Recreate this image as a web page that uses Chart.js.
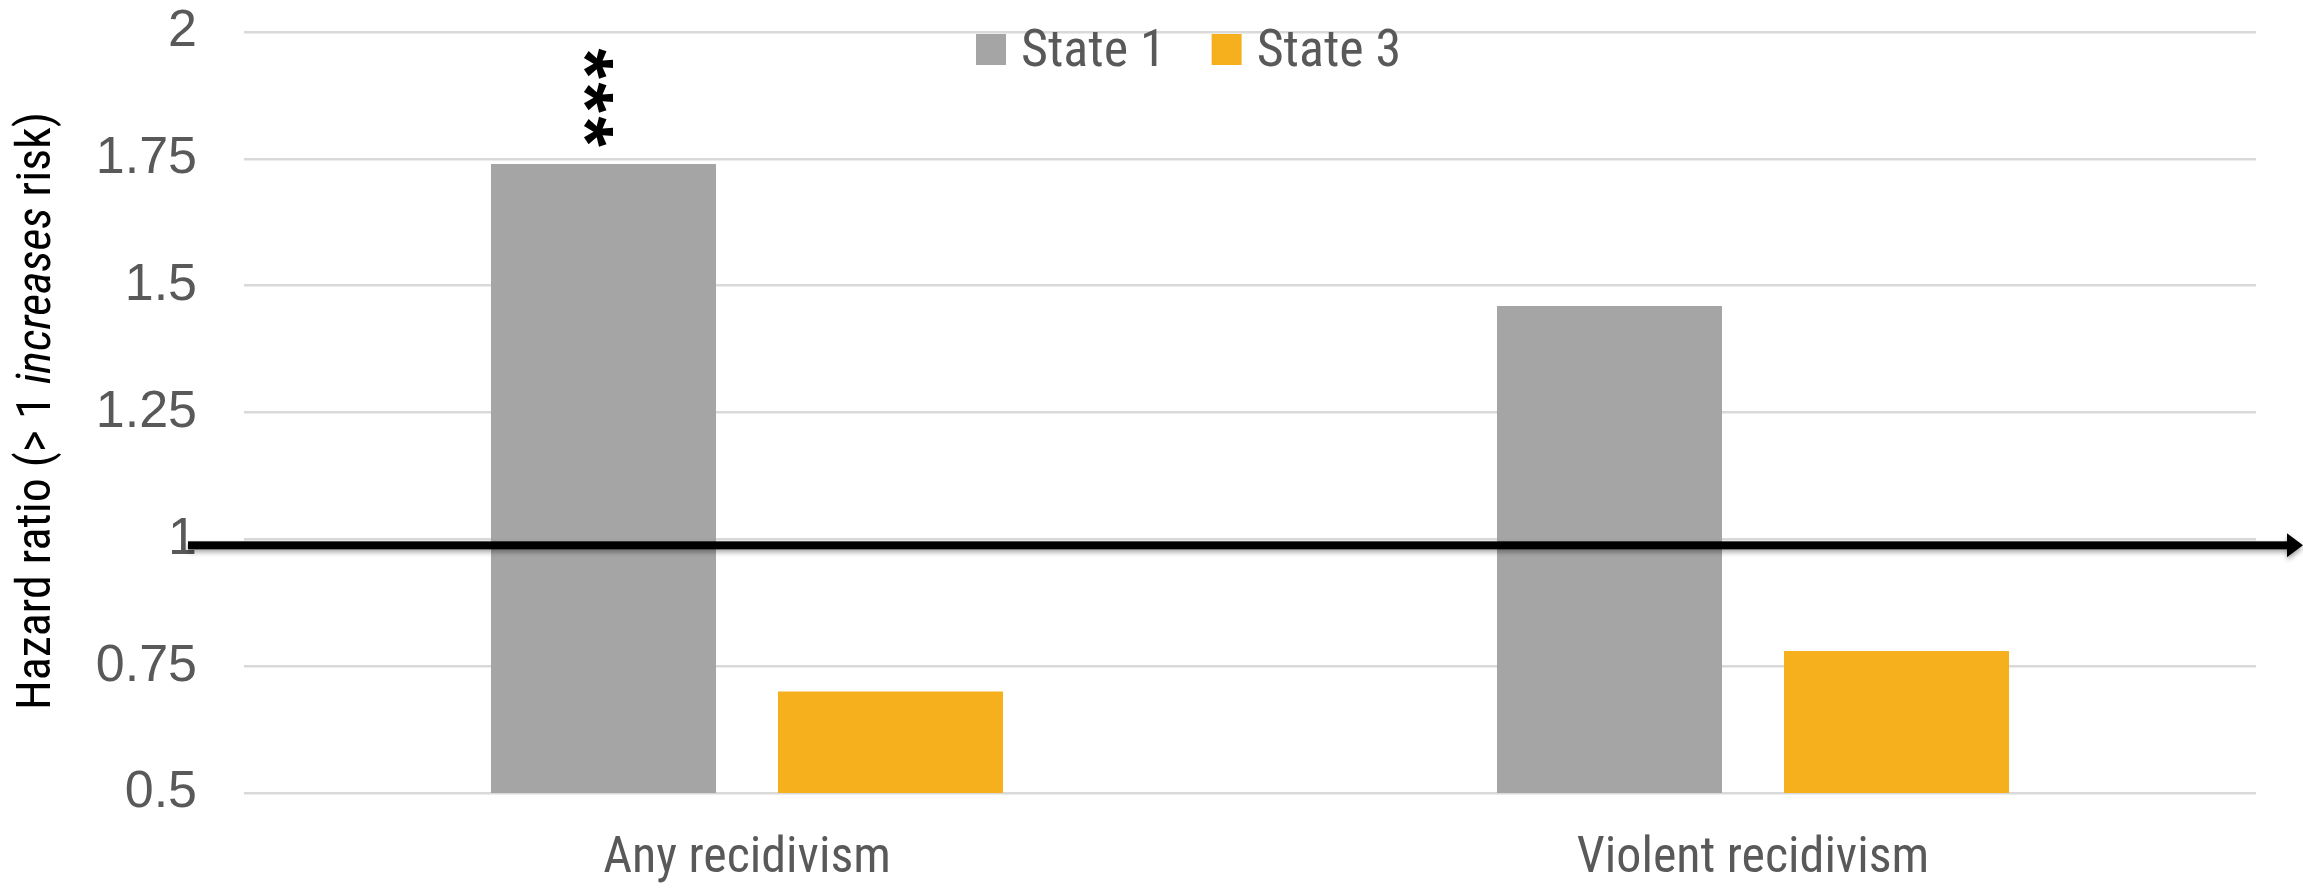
<!DOCTYPE html>
<html>
<head>
<meta charset="utf-8">
<script src="https://cdn.jsdelivr.net/npm/chart.js@4"></script>
<style>
  html, body { margin: 0; padding: 0; background: #fff; }
  #wrap { width: 2303px; height: 888px; }
</style>
</head>
<body>
<div id="wrap"><canvas id="myChart" width="2303" height="888"></canvas></div>
<script>
// Datos del grafico
const categories = ['Any recidivism', 'Violent recidivism'];
const seriesNames = ['State 1', 'State 3'];
const state1 = [1.74, 1.46];
const state3 = [0.70, 0.78];
const sigState1 = ['***', ''];
const yTicks = [0.5, 0.75, 1, 1.25, 1.5, 1.75, 2];
const colores = ['#A5A5A5', '#F6B01E'];

const narrow = "'Liberation Sans Narrow', 'Roboto Condensed', 'Open Sans', sans-serif";

// Leyenda, titulo del eje, flecha en 1 y asteriscos
const extras = {
  id: 'extras',
  afterDatasetsDraw(chart) {
    const ctx = chart.ctx;
    const area = chart.chartArea;
    const y = chart.scales.y.getPixelForValue(1) + 6;

    // flecha horizontal
    ctx.save();
    ctx.shadowColor = 'rgba(0,0,0,0.35)';
    ctx.shadowBlur = 5;
    ctx.shadowOffsetY = 3;
    ctx.fillStyle = '#000';
    ctx.fillRect(area.left - 56, y - 4, (chart.width - 14) - (area.left - 56), 8);
    ctx.beginPath();
    ctx.moveTo(chart.width - 16, y - 12);
    ctx.lineTo(chart.width, y);
    ctx.lineTo(chart.width - 16, y + 12);
    ctx.closePath();
    ctx.fill();
    ctx.restore();

    // asteriscos de significancia
    const meta = chart.getDatasetMeta(0);
    ctx.save();
    ctx.fillStyle = '#000';
    ctx.font = 'bold 78px "Liberation Sans", sans-serif';
    meta.data.forEach((bar, i) => {
      const s = sigState1[i];
      if (!s) return;
      const m = ctx.measureText('*');
      const cx = (m.actualBoundingBoxRight - m.actualBoundingBoxLeft) / 2 - m.actualBoundingBoxLeft;
      const cy = (m.actualBoundingBoxAscent - m.actualBoundingBoxDescent) / 2;
      for (let k = 0; k < s.length; k++) {
        ctx.save();
        ctx.translate(bar.x - 5, bar.y - 32 - k * 34);
        ctx.rotate(Math.PI / 2);
        ctx.fillText('*', -cx, cy);
        ctx.restore();
      }
    });
    ctx.restore();
  },
  afterDraw(chart) {
    const ctx = chart.ctx;

    // leyenda
    ctx.save();
    ctx.font = '52px ' + narrow;
    ctx.textBaseline = 'alphabetic';
    let x = 976;
    seriesNames.forEach((name, i) => {
      ctx.fillStyle = colores[i];
      ctx.fillRect(x, 34, 30, 31);
      ctx.fillStyle = '#595959';
      ctx.fillText(name, x + 45, 66);
      x += 45 + ctx.measureText(name).width + 46;
    });
    ctx.restore();

    // titulo del eje y con "increases" en italica
    const partes = [
      ['Hazard ratio (> 1 ', ''],
      ['increases', 'italic '],
      [' risk)', '']
    ];
    ctx.save();
    ctx.fillStyle = '#000';
    ctx.textBaseline = 'middle';
    let total = 0;
    partes.forEach(p => {
      ctx.font = p[1] + '48px ' + narrow;
      total += ctx.measureText(p[0]).width;
    });
    ctx.translate(38, 411);
    ctx.rotate(-Math.PI / 2);
    let px = -total / 2;
    partes.forEach(p => {
      ctx.font = p[1] + '48px ' + narrow;
      ctx.fillText(p[0], px, 0);
      px += ctx.measureText(p[0]).width;
    });
    ctx.restore();
  }
};

const ctx = document.getElementById('myChart');

new Chart(ctx, {
  type: 'bar',
  data: {
    labels: categories,
    datasets: [{
      label: seriesNames[0],
      data: state1,
      backgroundColor: colores[0]
    },
    {
      label: seriesNames[1],
      data: state3,
      backgroundColor: colores[1]
    }]
  },
  options: {
    responsive: false,
    animation: false,
    devicePixelRatio: 1,
    categoryPercentage: 0.5706,
    barPercentage: 0.784,
    layout: { padding: { top: 32, right: 47, bottom: 0, left: 0 } },
    plugins: {
      legend: { display: false },
      tooltip: { enabled: false }
    },
    scales: {
      x: {
        grid: { display: false, drawTicks: false },
        border: { display: false },
        ticks: {
          color: '#595959',
          font: { family: narrow, size: 50 },
          padding: 36,
          maxRotation: 0
        },
        afterFit(scale) { scale.height = 95; }
      },
      y: {
        min: 0.5,
        max: 2,
        afterBuildTicks(scale) { scale.ticks = yTicks.map(v => ({ value: v })); },
        grid: { color: '#D9D9D9', lineWidth: 2.5, drawTicks: false },
        border: { display: false },
        ticks: {
          color: '#595959',
          font: { family: "'Liberation Sans', Arial, sans-serif", size: 52 },
          padding: 47,
          callback: v => String(v)
        },
        afterFit(scale) {
          scale.width = 244;
          scale.paddingTop = 0;
          scale.paddingBottom = 0;
        }
      }
    }
  },
  plugins: [extras]
});
</script>
</body>
</html>
